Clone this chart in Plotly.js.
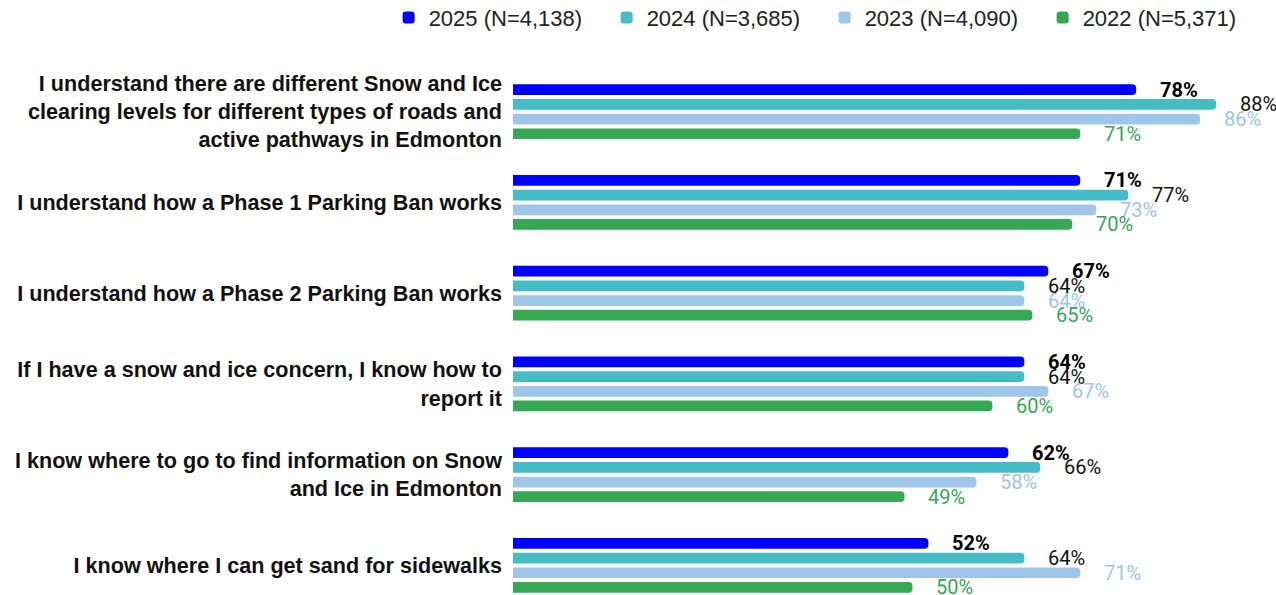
<!DOCTYPE html>
<html>
<head>
<meta charset="utf-8">
<script src="https://cdn.plot.ly/plotly-3.0.1.min.js"></script>
<style>html,body{margin:0;padding:0;background:#fff;}#chart{width:1276px;height:595px;}</style>
</head>
<body>
<div id="chart"></div>
<script>
const categories = [
  "I understand there are different Snow and Ice<br>clearing levels for different types of roads and<br>active pathways in Edmonton",
  "I understand how a Phase 1 Parking Ban works",
  "I understand how a Phase 2 Parking Ban works",
  "If I have a snow and ice concern, I know how to<br>report it",
  "I know where to go to find information on Snow<br>and Ice in Edmonton",
  "I know where I can get sand for sidewalks"
];
const seriesNames = ["2025 (N=4,138)", "2024 (N=3,685)", "2023 (N=4,090)", "2022 (N=5,371)"];
const values2025 = [78, 71, 67, 64, 62, 52];
const values2024 = [88, 77, 64, 64, 66, 64];
const values2023 = [86, 73, 64, 67, 58, 71];
const values2022 = [71, 70, 65, 60, 49, 50];

const seriesValues = [values2025, values2024, values2023, values2022];
const barColors = ["#0000FF", "#46BDC6", "#9FC5E8", "#34A853"];
const labelColors = ["#000000", "#111111", "#9FC5E8", "#34A853"];
const labelWeights = ["bold", "normal", "normal", "normal"];
const slotPx = 14.67;

const traces = seriesValues.map((vals, i) => ({
  type: "bar",
  orientation: "h",
  name: seriesNames[i],
  y: categories,
  x: vals,
  marker: { color: barColors[i], cornerradius: 4 },
  hoverinfo: "x+name"
}));

const annotations = [];
seriesValues.forEach((vals, i) => {
  const yshift = (1.5 - i) * slotPx;
  vals.forEach((v, j) => {
    annotations.push({
      x: v, y: categories[j], xref: "x", yref: "y",
      text: v + "%", showarrow: false,
      xanchor: "left", yanchor: "middle",
      xshift: 22, yshift: yshift,
      font: { family: "Roboto", size: 20, color: labelColors[i], weight: labelWeights[i] }
    });
  });
});

const layout = {
  width: 1276, height: 595,
  margin: { l: 513, r: 0, t: 60, b: 0, pad: 0, autoexpand: false },
  paper_bgcolor: "#ffffff", plot_bgcolor: "#ffffff",
  barmode: "group", bargap: 0.353, bargroupgap: 0.27,
  showlegend: true,
  legend: {
    orientation: "h", xref: "paper", yref: "paper",
    x: -0.163, y: 1.04, xanchor: "left", yanchor: "bottom",
    entrywidth: 173, entrywidthmode: "pixels",
    font: { family: "Liberation Sans, Arial, sans-serif", size: 22, color: "#222222" },
    traceorder: "normal"
  },
  xaxis: {
    range: [0, 95.5], showgrid: false, zeroline: false, showticklabels: false,
    showline: false, ticks: "", fixedrange: true
  },
  yaxis: {
    type: "category", range: [5.326, -0.57], showgrid: false, zeroline: false,
    showline: false, ticks: "", ticklabelstandoff: 10,
    tickfont: { family: "Liberation Sans, Arial, sans-serif", size: 21.6, color: "#111111", weight: "bold" }
  },
  annotations: annotations
};

Plotly.newPlot("chart", traces, layout, { displayModeBar: false, responsive: false });
</script>
</body>
</html>
